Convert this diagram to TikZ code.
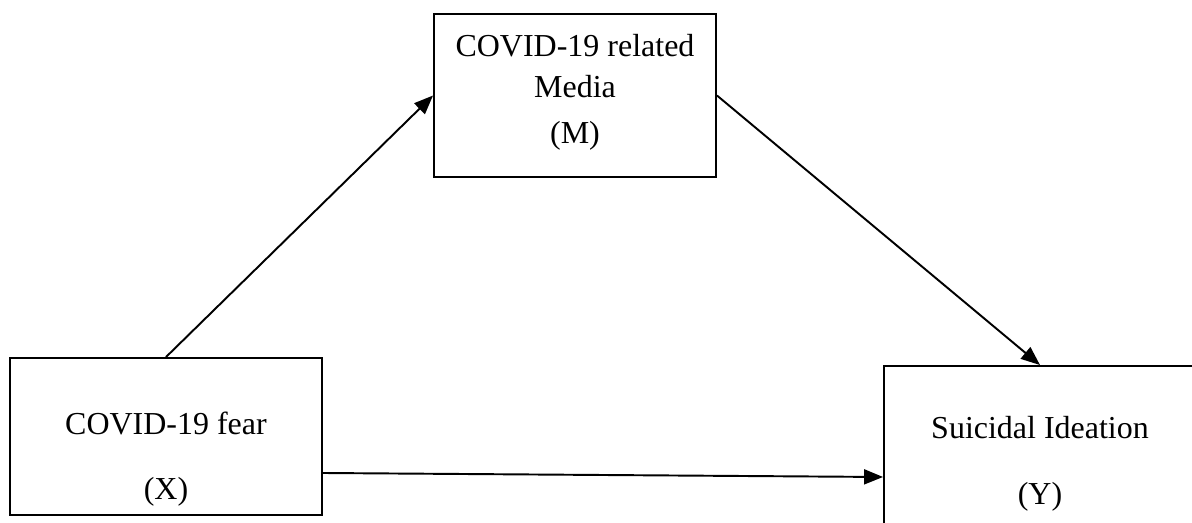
\documentclass[tikz,border=0pt]{standalone}
\usepackage{fontspec}
\setmainfont{Liberation Serif}
\usepackage{tikz}
\usetikzlibrary{arrows.meta}

\begin{document}
\begin{tikzpicture}
  \begin{scope}[x=0.02cm,y=-0.02cm,
    box/.style={draw=black,line width=1.1pt,inner sep=0pt},
    lbl/.style={inner sep=0pt,font=\fontsize{18.2}{22}\selectfont},
    every path/.style={black},
    link/.style={line width=1.1pt,-{Triangle[length=0.38cm,width=0.3cm]}}]
    % \draw[help lines,step=50] (0,0) grid (1192,523);
    \useasboundingbox (0,0) rectangle (1192,523);
    \node[box,minimum width=312*0.02cm,minimum height=157*0.02cm] (box_X) at (166,436.5) {};
    \node[box,minimum width=282*0.02cm,minimum height=163*0.02cm] (box_M) at (575,95.5) {};
    \node[box,minimum width=312*0.02cm,minimum height=160*0.02cm] (box_Y) at (1040,446) {};

    \node[lbl] (X_name) at (166,423) {COVID-19 fear};
    \node[lbl] (X_sym) at (166,492) {(X)};
    \node[lbl] (M_name) at (575,46) {COVID-19 related};
    \node[lbl] (M_name2) at (575,87) {Media};
    \node[lbl] (M_sym) at (575,136) {(M)};
    \node[lbl] (Y_name) at (1040,428) {Suicidal Ideation};
    \node[lbl] (Y_sym) at (1040,497) {(Y)};

    \draw[link] (box_X.north) -- (box_M.west);
    \draw[link] (box_M.east) -- (box_Y.north);
    \draw[link] ([yshift=-0.73cm]box_X.east) -- ([yshift=-0.62cm]box_Y.west);
  \end{scope}
\end{tikzpicture}
\end{document}
